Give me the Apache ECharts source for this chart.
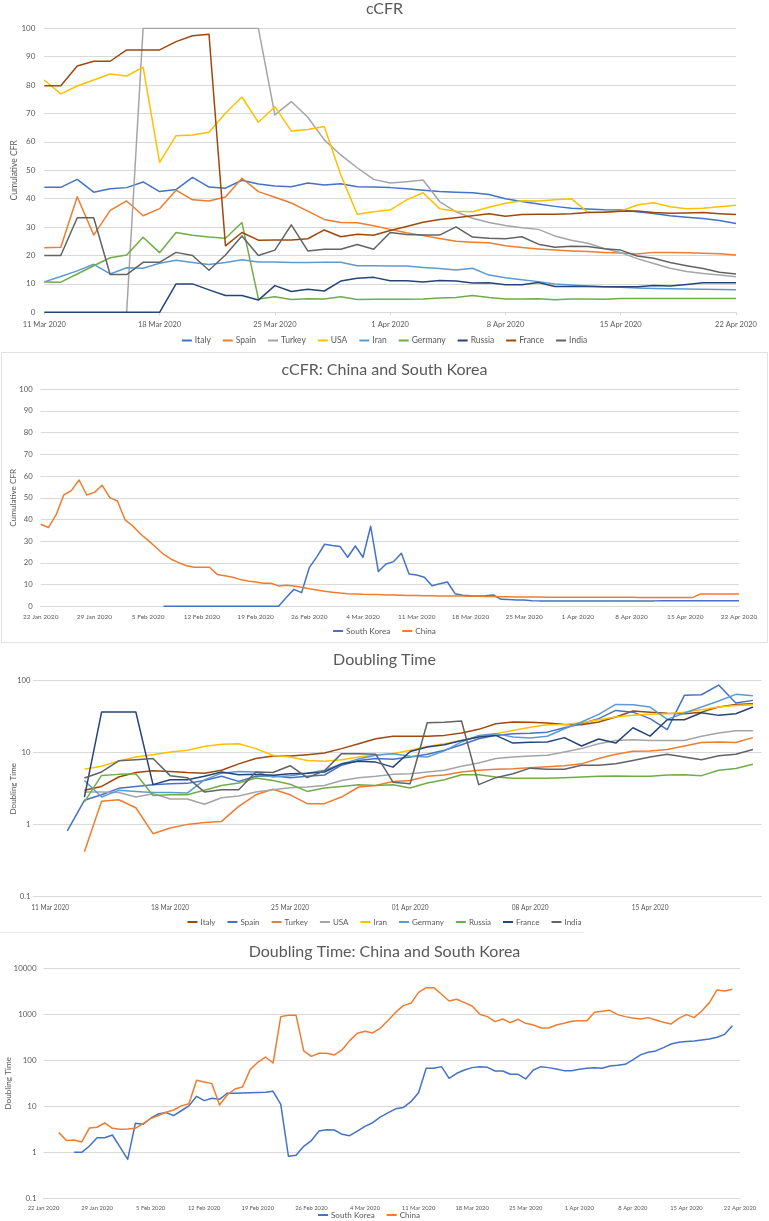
<!DOCTYPE html>
<html><head><meta charset="utf-8">
<script src="https://cdn.jsdelivr.net/npm/echarts@6/dist/echarts.min.js"></script>
<style>
html,body{margin:0;padding:0;background:#fff;width:769px;height:1221px;overflow:hidden}
.p{position:absolute;left:0;width:769px}
.b{position:absolute;pointer-events:none;box-sizing:border-box}
</style></head><body>
<div id="c1" class="p" style="top:0;height:350px"></div>
<div id="c2" class="p" style="top:350px;height:295px"></div>
<div id="c3" class="p" style="top:645px;height:290px"></div>
<div id="c4" class="p" style="top:935px;height:286px"></div>
<div class="b" style="left:1px;top:352px;width:767px;height:291px;border:1px solid #e2e2e2"></div>
<div class="b" style="left:0;top:932px;width:584px;height:1px;background:#e8e8e8"></div>
<script>
// ---------- Panel 1: cCFR (11 Mar .. 22 Apr 2020) ----------
const p1Names = ['Italy','Spain','Turkey','USA','Iran','Germany','Russia','France','India'];
const p1Colors = ['#4472C4','#ED7D31','#A5A5A5','#FFC000','#5B9BD5','#70AD47','#264478','#9E480E','#636363'];
const p1Italy = [44.0,44.0,46.8,42.3,43.5,43.9,45.9,42.5,43.2,47.5,44.1,43.7,46.5,45.2,44.5,44.2,45.5,44.8,45.3,44.2,44.1,43.9,43.5,43.0,42.5,42.3,42.1,41.5,40.0,39.0,38.1,37.3,36.6,36.4,36.1,36.0,35.4,34.8,34.0,33.5,33.0,32.3,31.3];
const p1Spain = [22.7,22.9,40.7,27.2,35.9,39.2,34.0,36.5,43.0,39.6,39.2,40.6,47.2,42.5,40.5,38.5,35.6,32.7,31.6,31.5,30.5,29.2,28.0,27.0,26.0,25.0,24.7,24.5,23.4,22.8,22.3,21.9,21.6,21.4,21.1,20.9,20.5,21.1,21.1,21.0,20.8,20.6,20.2];
const p1Turkey = [null,null,null,null,null,0,100,100,100,100,100,100,100,100,69.5,74.2,68.7,60.7,55.4,50.9,46.8,45.5,46.0,46.6,39.0,35.4,33.1,31.6,30.6,29.8,29.2,26.9,25.4,24.3,22.5,21.0,18.9,17.2,15.5,14.4,13.7,13.1,12.5];
const p1USA = [81.8,76.9,79.7,81.8,83.9,83.2,86.3,52.8,62.2,62.4,63.4,70.1,75.8,66.9,72.4,63.8,64.4,65.4,48.4,34.5,35.4,36.0,39.6,42.1,36.5,35.6,35.4,37.0,38.4,39.3,39.2,39.6,40.0,35.2,35.4,35.6,37.8,38.6,37.2,36.5,36.6,37.2,37.7];
const p1Iran = [10.7,12.6,14.6,16.9,13.5,15.7,15.5,17.3,18.3,17.5,16.8,17.5,18.5,17.7,17.7,17.5,17.5,17.6,17.6,16.4,16.4,16.3,16.3,15.8,15.4,14.9,15.5,13.1,12.2,11.5,10.8,10.0,9.6,9.3,9.0,8.8,8.6,8.4,8.3,8.2,8.1,8.0,7.9];
const p1Germany = [10.7,10.6,13.5,16.4,19.2,20.2,26.4,21.0,28.1,27.1,26.5,26.1,31.6,4.7,5.5,4.5,4.8,4.7,5.5,4.5,4.6,4.6,4.6,4.7,5.0,5.2,5.9,5.2,4.7,4.7,4.8,4.4,4.7,4.7,4.6,4.9,4.9,4.9,4.9,4.9,4.9,4.9,4.9];
const p1Russia = [0,0,0,0,0,0,0,0,10.0,10.0,7.9,5.9,5.9,4.3,9.4,7.3,8.1,7.5,11.0,12.0,12.3,11.1,11.1,10.7,11.2,11.0,10.3,10.4,9.7,9.7,10.5,9.1,9.1,9.1,9.0,9.0,9.0,9.4,9.3,9.8,10.4,10.4,10.4];
const p1France = [79.8,79.8,86.7,88.4,88.4,92.4,92.4,92.4,95.3,97.4,97.9,23.4,28.1,25.4,25.5,25.5,25.9,29.0,26.6,27.5,27.1,28.8,30.2,31.7,32.7,33.3,34.0,34.7,33.8,34.4,34.5,34.5,34.7,35.1,35.2,35.6,35.7,35.1,34.9,35.0,35.1,34.7,34.4];
const p1India = [20.0,20.0,33.3,33.3,13.3,13.3,17.6,17.6,21.1,20.0,14.8,20.2,26.9,20.0,21.9,30.8,21.6,22.2,22.2,23.9,22.2,28.1,27.4,27.2,27.2,30.1,26.5,26.1,25.9,26.6,24.0,22.9,23.3,23.2,22.4,21.9,19.8,19.0,17.5,16.4,15.4,14.1,13.5];

// ---------- Panel 2: cCFR China and South Korea (22 Jan .. 22 Apr 2020) ----------
const p2Names = ['South Korea','China'];
const p2Colors = ['#4472C4','#ED7D31'];
const p2SouthKorea = [null,null,null,null,null,null,null,null,null,null,null,null,null,null,null,null,
  0,0,0,0,0,0,0,0,0,0,0,0,0,0,0,0,
  4.1,7.8,6.3,17.8,22.9,28.6,28.0,27.6,22.6,27.8,22.6,36.9,16.0,19.5,20.6,24.4,14.9,14.4,13.4,9.5,10.4,11.2,5.8,5.1,4.9,4.8,4.9,5.2,3.2,3.1,2.9,2.9,2.6,
  2.5,2.5,2.4,2.4,2.4,2.5,2.5,2.5,2.5,2.4,2.4,2.5,2.5,2.5,2.5,2.5,2.6,2.6,2.6,2.6,2.6,2.6,2.6,2.6,2.6,2.6,2.6];
const p2China = [37.8,36.3,42.1,51.3,53.3,58.2,51.3,52.5,55.8,50.1,48.5,39.8,37.0,33.3,30.4,27.2,24.0,21.7,20.1,18.7,18.0,18.0,18.0,14.7,14.1,13.4,12.4,11.7,11.2,10.6,10.6,9.4,9.7,9.4,8.8,8.1,7.5,6.9,6.5,6.1,5.8,5.7,5.5,5.4,5.4,5.2,5.2,
  5.1,5.0,5.0,4.9,4.9,4.8,4.8,4.7,4.7,4.6,4.6,4.5,4.5,4.4,4.4,4.3,4.3,4.3,4.3,
  4.2,4.2,4.2,4.2,4.2,4.2,4.2,4.2,4.2,4.2,4.2,4.2,
  4.1,4.1,4.1,4.1,4.1,4.1,4.1,4.1,
  5.7,5.7,5.7,5.7,5.7,5.7];

// ---------- Panel 3: Doubling Time (11 Mar .. 21 Apr 2020) ----------
const p3Names = ['Italy','Spain','Turkey','USA','Iran','Germany','Russia','France','India'];
const p3Colors = ['#9E480E','#4472C4','#ED7D31','#A5A5A5','#FFC000','#5B9BD5','#70AD47','#264478','#636363'];
const p3TickDays = [0,7,14,21,28,35];
const p3TickLabels = ['11 Mar 2020','18 Mar 2020','25 Mar 2020','01 Apr 2020','08 Apr 2020','15 Apr 2020'];
const p3Italy = [null,null,3.0,3.4,4.6,5.3,5.6,5.5,5.3,5.2,5.7,7.0,8.3,9.0,9.0,9.4,9.9,11.4,13.3,15.6,16.9,16.9,16.9,17.4,18.8,21.1,25.3,26.6,26.5,25.8,24.7,24.5,26.7,31.3,37.9,36.6,35.4,34.8,36.6,43.1,46.9,48.0];
const p3Spain = [null,0.82,2.18,2.6,3.2,3.4,3.6,3.7,3.75,4.1,4.7,4.0,4.7,4.8,4.5,4.7,4.9,6.7,7.8,8.3,8.1,8.7,9.5,10.8,12.9,15.6,17.4,18.4,18.6,19.3,22.2,25.3,29.7,38.7,36.6,29.7,20.9,62.6,63.8,87,49,53.3];
const p3Turkey = [null,null,0.42,2.11,2.22,1.72,0.75,0.9,1.01,1.07,1.11,1.8,2.6,3.1,2.6,1.96,1.96,2.42,3.34,3.5,3.98,4.1,4.7,4.9,5.4,5.7,5.9,6.0,6.2,6.4,6.6,7.0,8.3,9.5,10.5,10.6,11.1,12.4,13.9,14.1,13.9,16.2];
const p3USA = [null,null,2.84,2.84,2.8,2.42,2.7,2.27,2.27,1.92,2.37,2.5,2.84,3.06,3.26,3.33,3.5,4.1,4.5,4.7,5.0,5.1,5.4,5.7,6.5,7.2,8.3,8.7,9.0,9.2,10.2,11.4,13.3,14.8,15.1,14.8,14.8,14.8,16.9,18.8,20.2,20.2];
const p3Iran = [null,null,5.9,6.5,7.7,8.7,9.4,10.2,10.8,12.2,13.1,13.3,11.4,9.2,8.7,7.8,7.6,8.0,8.7,9.4,9.7,10.8,12.2,13.3,14.8,16.5,18.4,20.4,22.5,24.5,24.7,26.1,28.7,31.3,33.0,34.1,34.8,36.6,39.5,43.1,45.4,46.4];
const p3Germany = [null,null,4.1,2.42,3.0,2.9,2.8,2.8,2.75,4.2,5.2,5.5,5.4,4.6,4.8,5.2,5.7,7.0,8.2,9.2,9.7,8.9,8.7,10.6,14.1,17.4,18.4,16.5,16.0,16.9,21.5,26.7,34.1,46.9,46.5,43.1,29.0,35.6,43.1,52.2,64.6,61.9];
const p3Russia = [null,null,2.07,4.84,5.0,5.1,2.55,2.6,2.6,3.0,3.5,3.8,4.45,4.1,3.65,2.9,3.23,3.4,3.6,3.5,3.6,3.23,3.8,4.2,4.95,4.95,4.6,4.4,4.4,4.4,4.5,4.6,4.7,4.75,4.7,4.7,4.9,4.95,4.8,5.7,6.05,6.9];
const p3France = [null,null,2.42,36.7,36.7,36.7,3.6,4.2,4.2,4.7,5.4,4.95,5.0,4.85,5.1,5.2,5.4,7.0,7.6,7.4,6.3,10.4,12.0,12.9,14.8,16.5,17.4,13.6,14.0,14.1,16.2,12.4,15.5,13.6,22.2,17.0,28.7,28.7,35.9,33.0,34.8,43.1];
const p3India = [null,null,4.45,5.4,7.7,8.0,8.3,4.8,4.5,2.85,3.05,3.05,5.4,5.3,6.6,4.5,5.6,9.7,9.7,9.5,3.9,3.7,26,26.5,27.5,3.6,4.5,5.1,6.1,5.9,5.9,6.7,6.7,7.0,7.8,8.7,9.5,8.7,8.0,9.1,9.5,11.1];

// ---------- Panel 4: Doubling Time China and South Korea (22 Jan .. 22 Apr 2020) ----------
const p4Names = ['South Korea','China'];
const p4Colors = ['#4472C4','#ED7D31'];
const p4SouthKorea = [null,null,null,null,
  1.0,1.0,1.37,2.08,2.08,2.38,1.3,0.70,4.27,4.06,5.5,6.8,7.3,6.3,8.0,10.2,16.5,13.3,14.9,14.2,19.2,19.3,19.5,19.7,19.9,20.1,21.2,11.0,0.82,0.86,1.35,1.8,2.9,3.1,3.05,2.46,2.3,2.9,3.67,4.4,5.8,7.2,8.8,
  9.4,12.6,19.8,67,67,72.8,40.6,52.2,61.6,69.3,72.8,70.4,58.6,58.6,49.6,49.6,39.3,61.6,72.8,69.3,64.8,59.6,59.6,63.7,67,69,67,75.3,78,81.8,102,131,149,160,189,226,246,255,263,277,291,316,367,567,
  null];
const p4China = [null,null,
  2.68,1.8,1.85,1.68,3.38,3.5,4.34,3.33,3.16,3.2,3.33,4.2,5.4,6.3,7.4,8.3,10.2,11.4,36.7,33.8,31.1,10.7,17.6,23.8,26.3,62.7,90.5,118,87.5,890,950,950,160,122,142,142,131,168,268,386,427,393,496,735,1100,
  1543,1733,3006,3800,3800,2722,1950,2118,1794,1518,1000,890,693,792,659,779,637,586,505,505,586,637,704,728,728,1105,1161,1222,984,890,832,792,847,753,670,617,818,984,847,1181,1794,3381,3215,3493,
  null];

// ---------- helpers ----------
const MONTHS = ['Jan','Feb','Mar','Apr','May','Jun','Jul','Aug','Sep','Oct','Nov','Dec'];
function dayRange(y, m, d, n) {
  const out = [];
  for (let i = 0; i < n; i++) {
    const t = new Date(Date.UTC(y, m - 1, d + i));
    out.push(t.getUTCDate() + ' ' + MONTHS[t.getUTCMonth()] + ' ' + t.getUTCFullYear());
  }
  return out;
}
const p1Dates = dayRange(2020, 3, 11, 43);
const p2Dates = dayRange(2020, 1, 22, 92);
const p4Dates = dayRange(2020, 1, 22, 92);

const GRID = '#d9d9d9';
const TXT = '#595959';
const FONT = 'Lato, "Liberation Sans", sans-serif';
const numFmt = v => String(Number(Number(v).toPrecision(6)));

function mkSeries(name, color, data) {
  return {
    type: 'line', name, data, showSymbol: false, symbol: 'none',
    lineStyle: { width: 1.5, color, join: 'round' }, itemStyle: { color },
    emphasis: { disabled: true }, connectNulls: false, animation: false
  };
}
function title(text, top) {
  return { text, left: 'center', top, padding: 0,
    textStyle: { fontSize: 16, fontWeight: 'normal', color: TXT, fontFamily: FONT } };
}
function legend(names, top, fs, gap, left) {
  return { data: names, top, left: left === undefined ? 'center' : left, padding: 0, icon: 'rect',
    itemWidth: 10, itemHeight: 2, itemGap: gap, selectedMode: false,
    textStyle: { fontSize: fs, color: TXT, fontFamily: FONT, padding: [0, 0, 0, -2] } };
}
function yName(name, gap, fs) {
  return { name, nameLocation: 'middle', nameGap: gap, nameMoveOverlap: false,
    nameTextStyle: { fontSize: fs, color: TXT, fontFamily: FONT } };
}

// ---------- Chart 1 ----------
const ch1 = echarts.init(document.getElementById('c1'), null, { renderer: 'canvas' });
const p1Data = [p1Italy, p1Spain, p1Turkey, p1USA, p1Iran, p1Germany, p1Russia, p1France, p1India];
ch1.setOption({
  animation: false,
  textStyle: { fontFamily: FONT },
  title: title('cCFR', 1),
  legend: legend(p1Names, 336, 8.5, 12),
  grid: { left: 44.3, right: 33, top: 28.3, bottom: 37.7, containLabel: false, outerBoundsMode: 'none' },
  xAxis: { type: 'category', data: p1Dates, boundaryGap: false,
    axisLine: { show: true, lineStyle: { color: GRID, width: 1 } },
    axisTick: { show: true, interval: 6, length: 3, lineStyle: { color: GRID } },
    axisLabel: { interval: 6, fontSize: 7.5, color: TXT, margin: 8, fontFamily: FONT },
    splitLine: { show: false } },
  yAxis: Object.assign({ type: 'value', min: 0, max: 100, interval: 10,
    axisLabel: { fontSize: 8, color: TXT, margin: 9, fontFamily: FONT },
    splitLine: { lineStyle: { color: GRID, width: 1 } },
    axisLine: { show: false }, axisTick: { show: false } }, yName('Cumulative CFR', 26, 8.5)),
  series: p1Names.map((n, i) => mkSeries(n, p1Colors[i], p1Data[i]))
});

// ---------- Chart 2 ----------
const ch2 = echarts.init(document.getElementById('c2'), null, { renderer: 'canvas' });
const p2Data = [p2SouthKorea, p2China];
ch2.setOption({
  animation: false,
  textStyle: { fontFamily: FONT },
  title: title('cCFR: China and South Korea', 12),
  legend: legend(p2Names, 277, 8.2, 12),
  grid: { left: 40.7, right: 30, top: 39.3, bottom: 38.7, containLabel: false, outerBoundsMode: 'none' },
  xAxis: { type: 'category', data: p2Dates, boundaryGap: false,
    axisLine: { show: true, lineStyle: { color: GRID, width: 1 } },
    axisTick: { show: false },
    axisLabel: { interval: 6, fontSize: 6.5, color: TXT, margin: 7, fontFamily: FONT },
    splitLine: { show: false } },
  yAxis: Object.assign({ type: 'value', min: 0, max: 100, interval: 10,
    axisLabel: { fontSize: 7.7, color: TXT, margin: 8, fontFamily: FONT },
    splitLine: { lineStyle: { color: GRID, width: 1 } },
    axisLine: { show: false }, axisTick: { show: false } }, yName('Cumulative CFR', 23, 8.2)),
  series: p2Names.map((n, i) => mkSeries(n, p2Colors[i], p2Data[i]))
});

// ---------- Chart 3 ----------
const ch3 = echarts.init(document.getElementById('c3'), null, { renderer: 'canvas' });
const p3Data = [p3Italy, p3Spain, p3Turkey, p3USA, p3Iran, p3Germany, p3Russia, p3France, p3India];
ch3.setOption({
  animation: false,
  textStyle: { fontFamily: FONT },
  title: title('Doubling Time', 7),
  legend: legend(p3Names, 273, 8, 12),
  grid: { left: 33, right: 7.5, top: 35.7, bottom: 38.3, containLabel: false, outerBoundsMode: 'none' },
  xAxis: { type: 'value', min: -1, max: 41.5,
    axisLine: { show: true, onZero: false, lineStyle: { color: GRID, width: 1 } },
    axisTick: { show: false },
    axisLabel: { customValues: p3TickDays, showMinLabel: true, showMaxLabel: true, hideOverlap: false,
      formatter: v => { const k = p3TickDays.indexOf(Math.round(v)); return k >= 0 ? p3TickLabels[k] : ''; },
      fontSize: 6.6, color: TXT, margin: 7.5, fontFamily: FONT },
    splitLine: { show: false } },
  yAxis: Object.assign({ type: 'log', logBase: 10, min: 0.1, max: 100,
    axisLabel: { fontSize: 7.7, color: TXT, margin: 2.5, fontFamily: FONT, formatter: numFmt },
    splitLine: { lineStyle: { color: GRID, width: 1 } },
    axisLine: { show: false }, axisTick: { show: false } }, yName('Doubling Time', 16, 8)),
  series: p3Names.map((n, i) => mkSeries(n, p3Colors[i],
    p3Data[i].map((v, d) => [d, v]).filter(p => p[1] !== null)))
});

// ---------- Chart 4 ----------
const ch4 = echarts.init(document.getElementById('c4'), null, { renderer: 'canvas' });
const p4Data = [p4SouthKorea, p4China];
ch4.setOption({
  animation: false,
  textStyle: { fontFamily: FONT },
  title: title('Doubling Time: China and South Korea', 9),
  legend: legend(p4Names, 276, 8.1, 12, 318),
  grid: { left: 43.5, right: 29, top: 33.3, bottom: 22.7, containLabel: false, outerBoundsMode: 'none' },
  xAxis: { type: 'category', data: p4Dates, boundaryGap: false,
    axisLine: { show: true, onZero: false, lineStyle: { color: GRID, width: 1 } },
    axisTick: { show: false },
    axisLabel: { interval: 6, fontSize: 5.8, color: TXT, margin: 6.5, fontFamily: FONT },
    splitLine: { show: false } },
  yAxis: Object.assign({ type: 'log', logBase: 10, min: 0.1, max: 10000,
    axisLabel: { fontSize: 7.9, color: TXT, margin: 7, fontFamily: FONT, formatter: numFmt },
    splitLine: { lineStyle: { color: GRID, width: 1 } },
    axisLine: { show: false }, axisTick: { show: false } }, yName('Doubling Time', 31, 8.2)),
  series: p4Names.map((n, i) => mkSeries(n, p4Colors[i], p4Data[i]))
});
</script>
</body></html>
